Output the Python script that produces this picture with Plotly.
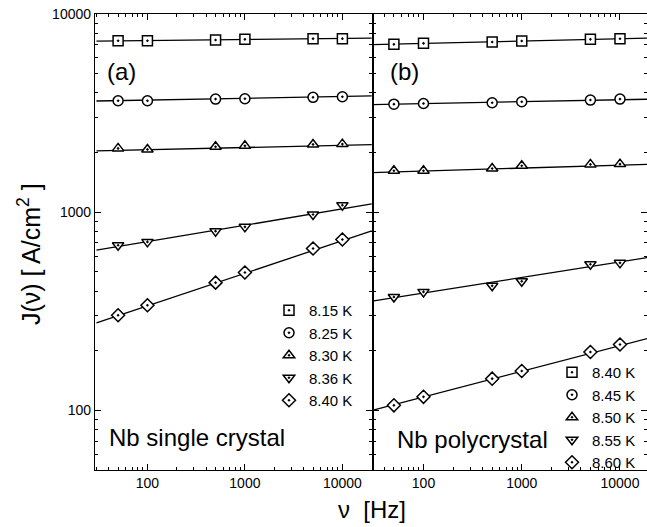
import plotly.graph_objects as go

# ---------------- data ----------------
freq = [50, 100, 500, 1000, 5000, 10000]

temps_a = ["8.15 K", "8.25 K", "8.30 K", "8.36 K", "8.40 K"]
J_a_815 = [7330, 7330, 7390, 7450, 7510, 7510]
J_a_825 = [3648, 3650, 3721, 3735, 3797, 3825]
J_a_830 = [2098, 2073, 2137, 2161, 2197, 2205]
J_a_836 = [681, 708, 802, 843, 973, 1085]
J_a_840 = [302, 339, 441, 496, 656, 728]

temps_b = ["8.40 K", "8.45 K", "8.50 K", "8.55 K", "8.60 K"]
J_b_840 = [7030, 7110, 7220, 7310, 7450, 7500]
J_b_845 = [3508, 3536, 3565, 3607, 3679, 3721]
J_b_850 = [1617, 1617, 1662, 1714, 1742, 1748]
J_b_855 = [373, 396, 425, 448, 546, 555]
J_b_860 = [106, 117, 144.5, 158, 197, 215]

# fit lines (power laws, straight on log-log): values read at the panel edges
fit_nu = [30, 20000]
fit_a_815 = [7300, 7560]
fit_a_825 = [3640, 3860]
fit_a_830 = [2040, 2190]
fit_a_836 = [643, 1100]
fit_a_840 = [276, 805]
fit_b_840 = [7000, 7560]
fit_b_845 = [3490, 3715]
fit_b_850 = [1585, 1745]
fit_b_855 = [356, 592]
fit_b_860 = [100, 232]

x_ticks = [100, 1000, 10000]
x_ticklabels = ["100", "1000", "10000"]
y_ticks = [100, 1000, 10000]
y_ticklabels = ["100", "1000", "10000"]

symbols = ["square-dot", "circle-dot", "triangle-up-dot", "triangle-down-dot", "diamond-dot"]

series_a = [J_a_815, J_a_825, J_a_830, J_a_836, J_a_840]
fits_a = [fit_a_815, fit_a_825, fit_a_830, fit_a_836, fit_a_840]
series_b = [J_b_840, J_b_845, J_b_850, J_b_855, J_b_860]
fits_b = [fit_b_840, fit_b_845, fit_b_850, fit_b_855, fit_b_860]

FONT = "Liberation Sans, Arial, Helvetica, sans-serif"

fig = go.Figure()

def add_panel(series, fits, names, xa, ya, legend):
    for f in fits:
        fig.add_trace(go.Scatter(x=fit_nu, y=f, mode="lines", xaxis=xa, yaxis=ya,
                                 line=dict(color="black", width=1.3), showlegend=False,
                                 hoverinfo="skip"))
    for s, nm, sym in zip(series, names, symbols):
        fig.add_trace(go.Scatter(x=freq, y=s, mode="markers", name=nm, xaxis=xa, yaxis=ya,
                                 legend=legend,
                                 marker=dict(symbol=sym, size=10, color="white",
                                             line=dict(color="black", width=1.5))))

add_panel(series_a, fits_a, temps_a, "x", "y", "legend")
add_panel(series_b, fits_b, temps_b, "x2", "y2", "legend2")

# minor tick positions (axis decoration)
minor_vals = [m * 10 ** e for e in range(1, 5) for m in range(2, 10)]

L, R, T, B = 95, 0, 14, 57
W, H = 647, 527
PW, PH = W - L - R, H - T - B
split = (372 - L) / PW

common_axis = dict(type="log", showline=True, linecolor="black", linewidth=1.3,
                   mirror="ticks", ticks="inside", ticklen=6, tickwidth=1.3,
                   tickcolor="black", showgrid=False, zeroline=False,
                   tickfont=dict(family=FONT, size=14, color="black"),
                   minor=dict(tickvals=minor_vals, ticks="inside", ticklen=3,
                              tickwidth=1, tickcolor="black", showgrid=False))

fig.update_layout(
    width=W, height=H,
    margin=dict(l=L, r=R, t=T, b=B),
    paper_bgcolor="white", plot_bgcolor="white",
    font=dict(family=FONT, color="black"),
    xaxis=dict(common_axis, domain=[0, split + 0.5 / PW], range=[1.462, 4.309],
               tickvals=x_ticks, ticktext=x_ticklabels, anchor="y"),
    xaxis2=dict(common_axis, domain=[split + 0.5 / PW, 1], range=[1.481, 4.275],
                tickvals=x_ticks, ticktext=x_ticklabels, anchor="y2"),
    yaxis=dict(common_axis, range=[1.69897, 4], tickvals=y_ticks,
               ticktext=y_ticklabels, anchor="x"),
    yaxis2=dict(common_axis, range=[1.69897, 4], tickvals=y_ticks,
                ticktext=y_ticklabels, showticklabels=False, anchor="x2"),
    legend=dict(x=(269 - L) / PW, y=(470 - 294) / PH, xanchor="left",
                yanchor="top", bgcolor="rgba(0,0,0,0)",
                font=dict(family=FONT, size=15, color="black")),
    legend2=dict(x=(552 - L) / PW, y=(470 - 356) / PH, xanchor="left",
                 yanchor="top", bgcolor="rgba(0,0,0,0)",
                 font=dict(family=FONT, size=15, color="black")),
)

annots = [
    dict(text="(a)", x=105, y=72, xanchor="left", size=24),
    dict(text="(b)", x=388, y=72, xanchor="left", size=24),
    dict(text="Nb single crystal", x=107, y=437, xanchor="left", size=24),
    dict(text="Nb polycrystal", x=395, y=439, xanchor="left", size=24),
    dict(text="ν  [Hz]", x=372, y=509, xanchor="center", size=24),
]
for a in annots:
    fig.add_annotation(text=a["text"], xref="paper", yref="paper",
                       x=(a["x"] - L) / PW, y=(H - B - a["y"]) / PH,
                       xanchor=a["xanchor"], yanchor="middle", showarrow=False,
                       font=dict(family=FONT, size=a["size"], color="black"))

fig.add_annotation(text="J(ν) [ A/cm<sup>2</sup> ]", xref="paper", yref="paper",
                   x=(29 - L) / PW, y=(H - B - 254) / PH,
                   xanchor="center", yanchor="middle", textangle=-90, showarrow=False,
                   font=dict(family=FONT, size=25, color="black"))

fig.write_html("out.html", config={"displayModeBar": False},
               post_script="document.body.style.margin='0';document.body.style.overflow='hidden';")
